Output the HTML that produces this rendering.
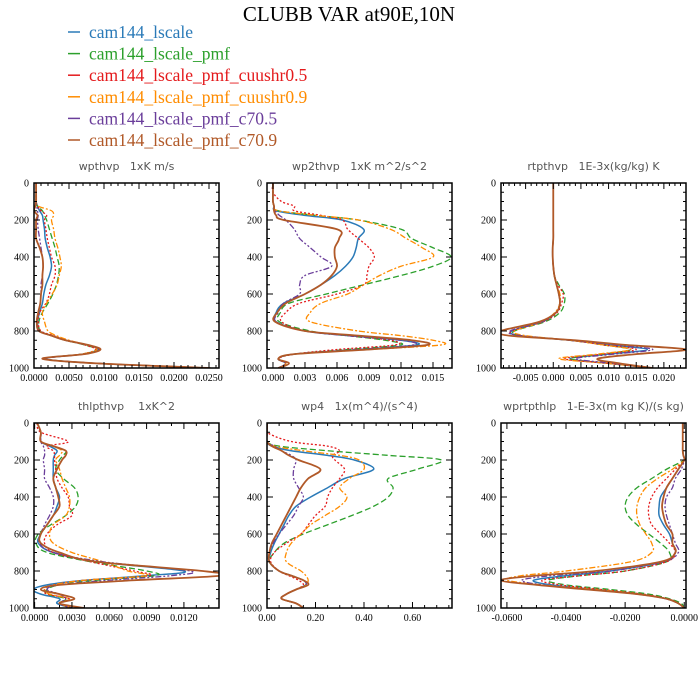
<!DOCTYPE html>
<html><head><meta charset="utf-8"><style>
html,body{margin:0;padding:0;background:#fff;}
svg{display:block;}
.tt{font-family:"Liberation Serif",serif;}
.pt{font-family:"DejaVu Sans","Liberation Sans",sans-serif;font-size:11px;fill:#555;white-space:pre;}
.tk{font-family:"Liberation Serif",serif;font-size:10px;fill:#000;}
</style></head><body>
<svg id="chart" width="700" height="700" viewBox="0 0 700 700">
<text class="tt" x="349" y="21" font-size="21" text-anchor="middle">CLUBB VAR at90E,10N</text>
<g id="legend"></g>
<g id="panels"></g>
</svg>
<script>
const seriesNames=["cam144_lscale","cam144_lscale_pmf","cam144_lscale_pmf_cuushr0.5","cam144_lscale_pmf_cuushr0.9","cam144_lscale_pmf_c70.5","cam144_lscale_pmf_c70.9"];
const levels=[0,50,100,125,150,175,200,250,300,350,400,450,500,550,600,650,700,750,800,825,850,875,900,925,950,975,1000];
const yTicks=[0,200,400,600,800,1000];

const wpthvp=[
[0.0003,0.0003,0.0003,0.0005,0.0008,0.0012,0.0013,0.0015,0.0016,0.0019,0.0023,0.0025,0.0022,0.0017,0.0014,0.0012,0.0008,0.0005,0.0008,0.0025,0.0045,0.0075,0.0092,0.0070,0.0015,0.0090,0.0250],
[0.0003,0.0003,0.0003,0.0005,0.0012,0.0015,0.0018,0.0022,0.0026,0.0030,0.0033,0.0036,0.0035,0.0032,0.0027,0.0020,0.0012,0.0007,0.0009,0.0025,0.0045,0.0072,0.0090,0.0068,0.0015,0.0090,0.0250],
[0.0003,0.0003,0.0003,0.0005,0.0010,0.0018,0.0015,0.0017,0.0019,0.0022,0.0025,0.0030,0.0030,0.0025,0.0022,0.0017,0.0008,0.0006,0.0010,0.0028,0.0047,0.0072,0.0088,0.0068,0.0015,0.0090,0.0250],
[0.0003,0.0003,0.0003,0.0006,0.0025,0.0028,0.0025,0.0028,0.0030,0.0034,0.0037,0.0039,0.0036,0.0033,0.0026,0.0018,0.0012,0.0015,0.0020,0.0032,0.0050,0.0075,0.0090,0.0068,0.0015,0.0090,0.0250],
[0.0003,0.0003,0.0003,0.0004,0.0005,0.0006,0.0005,0.0006,0.0008,0.0010,0.0012,0.0013,0.0012,0.0010,0.0010,0.0009,0.0006,0.0004,0.0008,0.0025,0.0045,0.0075,0.0093,0.0072,0.0016,0.0090,0.0250],
[0.0003,0.0003,0.0003,0.0002,0.0000,0.0005,0.0003,0.0003,0.0003,0.0008,0.0012,0.0013,0.0012,0.0012,0.0010,0.0009,0.0006,0.0004,0.0007,0.0025,0.0045,0.0077,0.0095,0.0072,0.0012,0.0090,0.0252]];
const wp2thvp=[
[0,0,0,0.0001,0.0003,0.003,0.0065,0.0085,0.008,0.0078,0.0075,0.0068,0.0058,0.0045,0.003,0.001,0.0003,0.0003,0.003,0.007,0.012,0.0135,0.008,0.002,0.0005,0.0012,0.0005],
[0,0,0,0.0001,0.0005,0.004,0.008,0.012,0.013,0.015,0.0167,0.015,0.012,0.0085,0.005,0.0015,0.0007,0.0006,0.0035,0.007,0.0105,0.012,0.007,0.002,0.0005,0.0012,0.0005],
[0,0,0.0008,0.002,0.002,0.0045,0.0065,0.007,0.008,0.009,0.0095,0.009,0.0088,0.0085,0.006,0.0025,0.0012,0.0008,0.003,0.007,0.011,0.0115,0.006,0.002,0.0005,0.0012,0.0005],
[0,0,0,0.0001,0.0005,0.004,0.008,0.011,0.0125,0.014,0.015,0.012,0.010,0.0085,0.007,0.0045,0.0035,0.0035,0.008,0.012,0.015,0.0158,0.009,0.002,0.0005,0.0012,0.0005],
[0,0,0,0.0001,0.0002,0.0006,0.0012,0.002,0.0025,0.0035,0.0045,0.0055,0.003,0.0025,0.0025,0.001,0.0005,0.0003,0.003,0.007,0.012,0.0132,0.008,0.002,0.0005,0.0012,0.0005],
[0,0,0,0.0001,0.0001,0.0003,0.001,0.006,0.0062,0.0058,0.0058,0.006,0.0055,0.0045,0.003,0.0012,0.0004,0.0002,0.003,0.008,0.013,0.0145,0.009,0.002,0.0005,0.0015,0.0005]];
const rtpthvp=[
[0,0,0,0,0,0,0,0,0,-0.0001,-0.0001,0,0.0002,0.0006,0.0010,0.0012,0.0005,-0.002,-0.0075,-0.006,0.003,0.010,0.017,0.010,0.003,0.010,0.018],
[0,0,0,0,0,0,0,0,0,-0.0001,-0.0001,0,0.0002,0.0010,0.0020,0.0020,0.0012,-0.0015,-0.007,-0.006,0.003,0.009,0.014,0.009,0.003,0.010,0.018],
[0,0,0,0,0,0,0,0,0,-0.0001,-0.0001,0,0.0002,0.0008,0.0018,0.0015,0.0007,-0.0018,-0.0075,-0.006,0.003,0.009,0.015,0.009,0.002,0.010,0.018],
[0,0,0,0,0,0,0,0,0,-0.0001,-0.0001,0,0.0002,0.0006,0.0012,0.0012,0.0003,-0.002,-0.007,-0.005,0.003,0.009,0.014,0.008,0.001,0.010,0.018],
[0,0,0,0,0,0,0,0,0,-0.0001,-0.0001,0,0.0002,0.0006,0.0010,0.0012,0.0005,-0.002,-0.0078,-0.006,0.003,0.011,0.018,0.011,0.004,0.011,0.018],
[0,0,0,0,0,0,0,0,0,-0.0001,-0.0001,0,0.0002,0.0006,0.0010,0.0012,0.0005,-0.0025,-0.0095,-0.008,0.004,0.013,0.024,0.015,0.008,0.012,0.018]];
const thlpthvp=[
[0.0002,0.0005,0.0005,0.0012,0.0018,0.0016,0.0015,0.0015,0.0015,0.0017,0.002,0.0018,0.0015,0.001,0.0005,0.0003,0.0015,0.005,0.012,0.009,0.004,0.001,-0.0001,0.0005,0.002,0.0018,0.003],
[0.0002,0.0005,0.0005,0.0015,0.0025,0.0023,0.002,0.0017,0.0023,0.0032,0.0035,0.0033,0.0025,0.0013,0.0003,0.0001,0.001,0.0045,0.009,0.0097,0.005,0.002,0.001,0.001,0.0025,0.002,0.003],
[0.0002,0.0005,0.0027,0.001,0.0015,0.0016,0.0016,0.0017,0.0018,0.0022,0.0027,0.0028,0.003,0.0018,0.001,0.0008,0.0015,0.0045,0.008,0.0092,0.004,0.0015,0.0008,0.001,0.0028,0.002,0.003],
[0.0002,0.0005,0.0005,0.0015,0.0022,0.002,0.0017,0.002,0.0022,0.0025,0.0028,0.0028,0.0025,0.0015,0.0012,0.0015,0.003,0.0055,0.0075,0.009,0.004,0.0015,0.0008,0.0012,0.0028,0.002,0.003],
[0.0002,0.0005,0.0005,0.0007,0.0008,0.0008,0.0007,0.0008,0.0008,0.0012,0.0015,0.0015,0.0012,0.0008,0.0005,0.0004,0.0015,0.0055,0.0125,0.011,0.006,0.002,0.001,0.002,0.0025,0.002,0.003],
[0.0002,0.0005,0.0005,0.0015,0.0025,0.0025,0.0022,0.0018,0.0015,0.0017,0.0019,0.002,0.0015,0.001,0.0005,0.0005,0.002,0.005,0.0135,0.015,0.008,0.002,0.0005,0.002,0.0032,0.002,0.004]];
const wp4=[
[0,0,0,0.02,0.1,0.25,0.36,0.44,0.32,0.25,0.18,0.12,0.09,0.07,0.05,0.03,0.015,0.01,0.05,0.1,0.15,0.16,0.12,0.08,0.06,0.12,0.15],
[0,0,0,0.05,0.25,0.5,0.72,0.62,0.5,0.52,0.5,0.44,0.35,0.25,0.15,0.07,0.03,0.01,0.05,0.1,0.15,0.16,0.12,0.08,0.06,0.12,0.15],
[0,0,0.1,0.25,0.3,0.27,0.28,0.32,0.3,0.27,0.25,0.24,0.2,0.17,0.14,0.08,0.03,0.015,0.05,0.09,0.13,0.15,0.12,0.08,0.06,0.12,0.15],
[0,0,0,0.03,0.15,0.3,0.38,0.4,0.34,0.3,0.33,0.3,0.24,0.18,0.14,0.1,0.08,0.08,0.14,0.16,0.17,0.16,0.12,0.08,0.06,0.12,0.15],
[0,0,0,0.03,0.06,0.1,0.12,0.11,0.11,0.13,0.15,0.13,0.11,0.08,0.05,0.025,0.01,0.01,0.05,0.1,0.15,0.16,0.12,0.08,0.06,0.12,0.15],
[0,0,0,0.02,0.06,0.09,0.13,0.22,0.17,0.14,0.12,0.1,0.08,0.06,0.04,0.02,0.01,0.01,0.05,0.1,0.15,0.17,0.12,0.08,0.06,0.12,0.15]];
const wprtpthlp=[
[-0.0005,-0.0005,-0.0005,-0.0005,-0.0005,-0.0003,0,-0.002,-0.004,-0.006,-0.008,-0.0085,-0.0085,-0.007,-0.005,-0.004,-0.003,-0.007,-0.025,-0.04,-0.051,-0.045,-0.03,-0.015,-0.006,-0.002,0],
[-0.0005,-0.0005,-0.0005,-0.0005,-0.0005,-0.0003,0,-0.006,-0.011,-0.016,-0.019,-0.02,-0.019,-0.016,-0.012,-0.008,-0.005,-0.006,-0.02,-0.035,-0.046,-0.04,-0.025,-0.012,-0.005,-0.001,0],
[-0.0005,-0.0005,-0.0005,-0.0005,-0.0005,-0.0003,0,-0.003,-0.006,-0.009,-0.011,-0.012,-0.012,-0.011,-0.008,-0.005,-0.003,-0.006,-0.02,-0.035,-0.048,-0.042,-0.028,-0.014,-0.006,-0.002,0],
[-0.0005,-0.0005,-0.0005,-0.0005,-0.0005,-0.0003,0,-0.004,-0.009,-0.013,-0.015,-0.016,-0.016,-0.015,-0.013,-0.011,-0.011,-0.018,-0.04,-0.055,-0.06,-0.048,-0.03,-0.015,-0.006,-0.002,0],
[-0.0005,-0.0005,-0.0005,-0.0005,-0.0005,-0.0003,0,-0.001,-0.003,-0.004,-0.006,-0.0065,-0.006,-0.005,-0.004,-0.003,-0.002,-0.007,-0.025,-0.045,-0.055,-0.048,-0.032,-0.016,-0.006,-0.002,0],
[-0.0005,-0.0005,-0.0005,-0.0005,-0.0005,-0.0003,0,-0.002,-0.004,-0.006,-0.007,-0.0075,-0.007,-0.006,-0.004,-0.004,-0.003,-0.008,-0.03,-0.05,-0.062,-0.05,-0.033,-0.016,-0.006,-0.002,0]];

const ticks1=["0.0000","0.0050","0.0100","0.0150","0.0200","0.0250"];
const ticks2=["0.000","0.003","0.006","0.009","0.012","0.015"];
const ticks3=["-0.005","0.000","0.005","0.010","0.015","0.020"];
const ticks4=["0.0000","0.0030","0.0060","0.0090","0.0120"];
const ticks5=["0.00","0.20","0.40","0.60"];
const ticks6=["-0.0600","-0.0400","-0.0200","0.0000"];

const colors=["#2a7ab8","#2ca02c","#e41a1c","#ff8c00","#6a3d9a","#b15928"];
const dashes=["","6,3","2,2","6,2,2,2","6,2,2,2,2,2",""];
const widths=[1.5,1.3,1.3,1.3,1.3,1.8];

const panels=[
{name:"wpthvp",title:"wpthvp   1xK m/s",data:wpthvp,ticks:ticks1,x:34,y:183,xmin:0,xmax:0.02643,minor:5},
{name:"wp2thvp",title:"wp2thvp   1xK m^2/s^2",data:wp2thvp,ticks:ticks2,x:267,y:183,xmin:-0.00056,xmax:0.01678,minor:3},
{name:"rtpthvp",title:"rtpthvp   1E-3x(kg/kg) K",data:rtpthvp,ticks:ticks3,x:501,y:183,xmin:-0.00945,xmax:0.0240,minor:5},
{name:"thlpthvp",title:"thlpthvp    1xK^2",data:thlpthvp,ticks:ticks4,x:34,y:423,xmin:-0.00005,xmax:0.01482,minor:3},
{name:"wp4",title:"wp4   1x(m^4)/(s^4)",data:wp4,ticks:ticks5,x:267,y:423,xmin:0,xmax:0.763,minor:4},
{name:"wprtpthlp",title:"wprtpthlp   1-E-3x(m kg K)/(s kg)",data:wprtpthlp,ticks:ticks6,x:501,y:423,xmin:-0.0620,xmax:0.0006,minor:4}];
const W=185,H=185;
const NS="http://www.w3.org/2000/svg";
function mk(tag,attrs,parent){const e=document.createElementNS(NS,tag);for(const k in attrs)e.setAttribute(k,attrs[k]);parent.appendChild(e);return e;}

const lg=document.getElementById('legend');
seriesNames.forEach((n,i)=>{
  const y=38+i*21.6;
  const l=mk('line',{x1:68,x2:80,y1:y-6,y2:y-6,stroke:colors[i],'stroke-width':1.5},lg);
  
  
  const t=mk('text',{x:89,y:y,fill:colors[i],'font-size':17.5,class:'tt'},lg);
  t.textContent=n;
  
  
});

function smooth(pts){
  let d="M"+pts[0][0].toFixed(2)+","+pts[0][1].toFixed(2);
  for(let i=0;i<pts.length-1;i++){
    const p0=pts[Math.max(0,i-1)],p1=pts[i],p2=pts[i+1],p3=pts[Math.min(pts.length-1,i+2)];
    const c1x=p1[0]+(p2[0]-p0[0])/6,c1y=p1[1]+(p2[1]-p0[1])/6;
    const c2x=p2[0]-(p3[0]-p1[0])/6,c2y=p2[1]-(p3[1]-p1[1])/6;
    d+="C"+c1x.toFixed(2)+","+c1y.toFixed(2)+" "+c2x.toFixed(2)+","+c2y.toFixed(2)+" "+p2[0].toFixed(2)+","+p2[1].toFixed(2);
  }
  return d;
}

const pg=document.getElementById('panels');
panels.forEach((p,pi)=>{
  const g=mk('g',{},pg);
  
  
  const xs=v=>p.x+(v-p.xmin)/(p.xmax-p.xmin)*W;
  const ys=v=>p.y+v/1000*H;
  const t=mk('text',{x:p.x+W/2,y:p.y-13,'text-anchor':'middle',class:'pt'},g);
  t.setAttributeNS("http://www.w3.org/XML/1998/namespace","xml:space","preserve");
  t.textContent=p.title;
  
  
  const cid='clip'+pi;
  const cp=mk('clipPath',{id:cid},g);
  mk('rect',{x:p.x,y:p.y,width:W,height:H},cp);
  const lines=mk('g',{'clip-path':'url(#'+cid+')'},g);
  p.data.forEach((s,si)=>{
    const pts=s.map((v,k)=>[xs(v),ys(levels[k])]);
    const path=mk('path',{d:smooth(pts),fill:'none',stroke:colors[si],'stroke-width':widths[si],'stroke-dasharray':dashes[si]||'none','stroke-linejoin':'round'},lines);
    
    
  });
  const ax=mk('g',{stroke:'#000','stroke-width':1},g);
  
  
  mk('rect',{x:p.x,y:p.y,width:W,height:H,fill:'none','stroke-width':1.5},ax);
  for(let v=0;v<=1000;v+=50){
    const y=ys(v),len=(v%200===0)?6:3;
    mk('line',{x1:p.x,x2:p.x+len,y1:y,y2:y},ax);
    mk('line',{x1:p.x+W,x2:p.x+W-len,y1:y,y2:y},ax);
  }
  yTicks.forEach(v=>{
    const tl=mk('text',{x:p.x-5,y:ys(v)+3.5,'text-anchor':'end',class:'tk'},g);
    tl.textContent=v;
    
    
  });
  const vals=p.ticks.map(Number);
  const step=vals[1]-vals[0];
  for(let k=-p.minor*2;k<=(vals.length+1)*p.minor;k++){
    const v=vals[0]+k*step/p.minor;
    const x=xs(v);
    if(x<p.x-0.5||x>p.x+W+0.5)continue;
    const len=(k%p.minor===0)?6:3;
    mk('line',{x1:x,x2:x,y1:p.y+H,y2:p.y+H-len},ax);
    mk('line',{x1:x,x2:x,y1:p.y,y2:p.y+len},ax);
  }
  p.ticks.forEach(lbl=>{
    const tl=mk('text',{x:xs(Number(lbl)),y:p.y+H+13,'text-anchor':'middle',class:'tk'},g);
    tl.textContent=lbl;
    
    
  });
});
</script>
</body></html>
